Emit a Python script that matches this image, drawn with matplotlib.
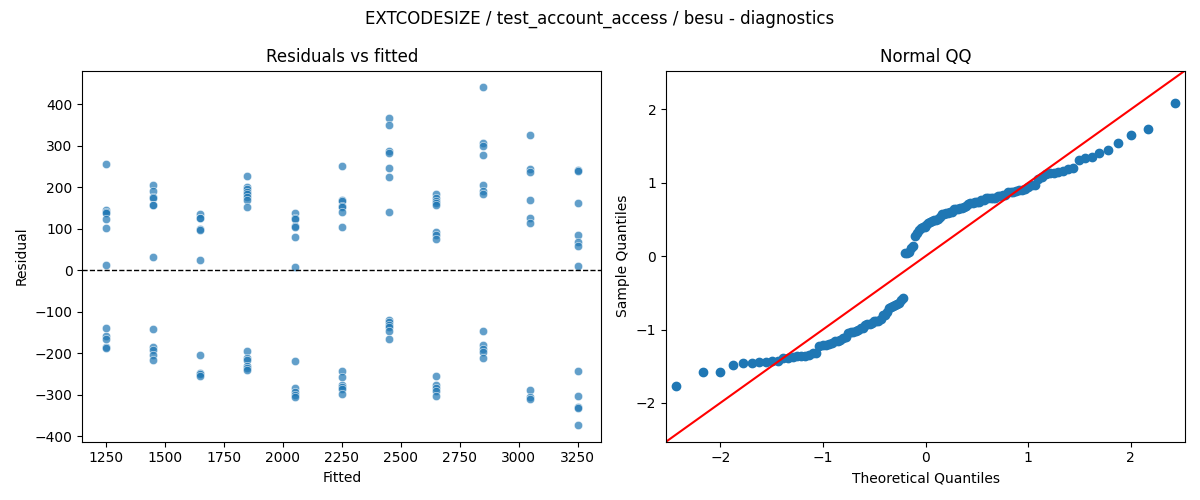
#!/usr/bin/env python3
"""Residual diagnostics for EXTCODESIZE / test_account_access / besu:
residuals vs fitted (left) and a normal QQ of the standardised residuals (right)."""
from statistics import NormalDist

import matplotlib
matplotlib.use("Agg")
import matplotlib.pyplot as plt
import numpy as np
import seaborn as sns

TITLE = "EXTCODESIZE / test_account_access / besu - diagnostics"

# fitted level -> residuals
FITTED_LEVELS = [1250, 1450, 1650, 1850, 2050, 2250, 2450, 2650, 2850, 3050, 3250]
RESID_1250 = [255, 145, 140, 137, 123, 101, 13, -140, -158, -166, -184, -186]
RESID_1450 = [205, 192, 177, 175, 157, 156, 31, -141, -185, -192, -204, -216]
RESID_1650 = [136, 127, 125, 99, 97, 24, -204, -248, -250, -254]
RESID_1850 = [227, 201, 195, 189, 184, 177, 169, 152, -194, -212, -217, -230, -234, -240]
RESID_2050 = [137, 125, 123, 107, 105, 81, 9, -218, -284, -292, -300, -306]
RESID_2250 = [250, 169, 167, 155, 153, 141, 105, -242, -256, -276, -282, -286, -298]
RESID_2450 = [366, 350, 286, 282, 245, 224, 140, -120, -125, -132, -136, -145, -166]
RESID_2650 = [184, 175, 167, 161, 157, 91, 85, 75, -254, -276, -284, -290, -302]
RESID_2850 = [440, 307, 298, 277, 205, 191, 184, -146, -180, -190, -196, -210]
RESID_3050 = [326, 243, 237, 169, 127, 113, -288, -306, -310]
RESID_3250 = [241, 240, 161, 85, 69, 59, 10, -242, -302, -330, -332, -372]

RESIDUALS = [RESID_1250, RESID_1450, RESID_1650, RESID_1850, RESID_2050, RESID_2250,
             RESID_2450, RESID_2650, RESID_2850, RESID_3050, RESID_3250]

QQ_LIM = 2.53  # shared x/y limit of the QQ panel, as in the chart


def main() -> None:
    fitted = np.concatenate([[f] * len(r) for f, r in zip(FITTED_LEVELS, RESIDUALS)])
    resid = np.concatenate([np.asarray(r, float) for r in RESIDUALS])

    fig, (ax1, ax2) = plt.subplots(1, 2, figsize=(12, 5))

    # residuals vs fitted
    sns.scatterplot(x=fitted, y=resid, ax=ax1, alpha=0.7)
    ax1.axhline(0, color="black", linestyle="--", linewidth=1)
    ax1.set_title("Residuals vs fitted")
    ax1.set_xlabel("Fitted")
    ax1.set_ylabel("Residual")

    # normal QQ, standardised like statsmodels qqplot(fit=True, line="45")
    n = resid.size
    theo = np.array([NormalDist().inv_cdf(i / (n + 1)) for i in range(1, n + 1)])
    sample = (np.sort(resid) - resid.mean()) / resid.std()
    ax2.plot(theo, sample, "o", color="C0", linestyle="none")
    ax2.plot([-QQ_LIM, QQ_LIM], [-QQ_LIM, QQ_LIM], "r-")
    ax2.set_xlim(-QQ_LIM, QQ_LIM)
    ax2.set_ylim(-QQ_LIM, QQ_LIM)
    ax2.set_title("Normal QQ")
    ax2.set_xlabel("Theoretical Quantiles")
    ax2.set_ylabel("Sample Quantiles")

    fig.suptitle(TITLE)
    fig.tight_layout()
    fig.savefig("out.png", dpi=100)
    plt.close(fig)


if __name__ == "__main__":
    main()
